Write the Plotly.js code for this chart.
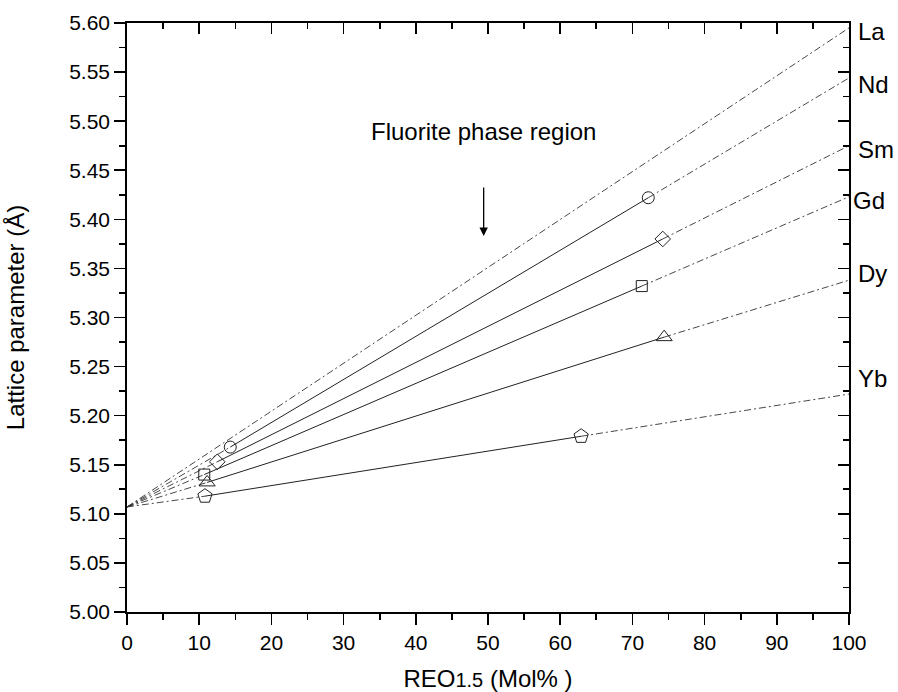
<!DOCTYPE html>
<html>
<head>
<meta charset="utf-8">
<script src="https://cdn.plot.ly/plotly-3.0.1.min.js"></script>
<style>html,body{margin:0;padding:0;background:#fff;}#chart{width:898px;height:692px;}</style>
</head>
<body>
<div id="chart"></div>
<script>
// Data
const elements   = ['La', 'Nd', 'Sm', 'Gd', 'Dy', 'Yb'];
const intercept  = 5.107;                 // common value at 0 mol%
const endX       = 100;
const endY       = [5.595, 5.544, 5.475, 5.423, 5.338, 5.222];
const lowX  = [null, 14.3, 12.5, 10.7, 11.1, 10.8];
const lowY  = [null, 5.168, 5.153, 5.140, 5.132, 5.118];
const highX = [null, 72.2, 74.2, 71.3, 74.4, 62.9];
const highY = [null, 5.422, 5.380, 5.332, 5.280, 5.179];
const labelY = [5.591, 5.537, 5.471, 5.419, 5.345, 5.238];
const xTicks = [0, 10, 20, 30, 40, 50, 60, 70, 80, 90, 100];
const yTicks = [5.00, 5.05, 5.10, 5.15, 5.20, 5.25, 5.30, 5.35, 5.40, 5.45, 5.50, 5.55, 5.60];

// styles (kept apart from data)
const markerStyle = {
  Nd: {symbol: 'circle-open', size: 12},
  Sm: {symbol: 'diamond-open', size: 12},
  Gd: {symbol: 'square-open', size: 11},
  Dy: {symbol: 'triangle-up-open', size: 14},
  Yb: {symbol: 'pentagon-open', size: 15}
};

const dashStyle = '7px,3px,2px,3px';
const traces = [];
elements.forEach((el, i) => {
  const ms = markerStyle[el];
  if (!ms) {
    traces.push({x: [0, endX], y: [intercept, endY[i]], mode: 'lines',
      line: {color: '#333', width: 0.9, dash: dashStyle}, showlegend: false, hoverinfo: 'skip'});
  } else {
    traces.push({x: [0, lowX[i], null, highX[i], endX], y: [intercept, lowY[i], null, highY[i], endY[i]],
      mode: 'lines', connectgaps: false,
      line: {color: '#333', width: 0.9, dash: dashStyle}, showlegend: false, hoverinfo: 'skip'});
    traces.push({x: [lowX[i], highX[i]], y: [lowY[i], highY[i]], mode: 'lines+markers',
      line: {color: '#222', width: 1},
      marker: {symbol: ms.symbol, size: ms.size, color: '#222', line: {width: 1, color: '#222'}},
      showlegend: false, name: el});
  }
});

const fontFam = 'Arial, "Liberation Sans", sans-serif';
const annotations = elements.map((el, i) => ({
  x: 1, xref: 'paper', y: labelY[i], yref: 'y', text: el, showarrow: false,
  xanchor: 'left', yanchor: 'middle', xshift: (el === 'Gd' ? 2 : 7),
  font: {family: fontFam, size: 24, color: '#000'}
}));
annotations.push({x: 49.4, y: 5.489, xref: 'x', yref: 'y', text: 'Fluorite phase region',
  showarrow: false, font: {family: fontFam, size: 24, color: '#000'}});
annotations.push({x: 49.4, y: 5.383, ax: 49.4, ay: 5.434, xref: 'x', yref: 'y', axref: 'x', ayref: 'y',
  text: '', showarrow: true, arrowhead: 2, arrowsize: 1.3, arrowwidth: 1.3, arrowcolor: '#000'});

const axBase = {showgrid: false, zeroline: false, showline: true, linecolor: '#000', linewidth: 1.8};
const layout = {
  width: 898, height: 692,
  margin: {l: 127, r: 49, t: 23, b: 80},
  paper_bgcolor: '#fff', plot_bgcolor: '#fff',
  font: {family: fontFam, color: '#000'},
  showlegend: false,
  xaxis: Object.assign({}, axBase, {
    range: [0, 100], tickvals: xTicks, ticktext: xTicks.map(String),
    ticks: 'outside', ticklen: 11, tickwidth: 1.6, tickcolor: '#000',
    minor: {dtick: 5, tick0: 0, ticks: 'outside', ticklen: 6, tickwidth: 1.6, tickcolor: '#000'},
    tickfont: {size: 21, family: fontFam},
    title: {text: 'REO<span style="font-size:20px">1.5</span> (Mol% )', font: {size: 24, family: fontFam}, standoff: 18}
  }),
  yaxis: Object.assign({}, axBase, {
    range: [5.0, 5.6], tickvals: yTicks, ticktext: yTicks.map(v => v.toFixed(2)),
    ticks: 'outside', ticklen: 11, tickwidth: 1.6, tickcolor: '#000',
    minor: {dtick: 0.025, tick0: 5.0, ticks: 'outside', ticklen: 6, tickwidth: 1.6, tickcolor: '#000'},
    tickfont: {size: 21, family: fontFam},
    title: {text: 'Lattice parameter (Å)', font: {size: 24, family: fontFam}, standoff: 38}
  }),
  xaxis2: Object.assign({}, axBase, {
    overlaying: 'x', side: 'top', range: [0, 100], tickvals: xTicks, showticklabels: false,
    ticks: 'inside', ticklen: 11, tickwidth: 1.6, tickcolor: '#000',
    minor: {dtick: 5, tick0: 0, ticks: 'inside', ticklen: 6, tickwidth: 1.6, tickcolor: '#000'}
  }),
  yaxis2: Object.assign({}, axBase, {
    overlaying: 'y', side: 'right', range: [5.0, 5.6], tickvals: yTicks, showticklabels: false,
    ticks: 'inside', ticklen: 11, tickwidth: 1.6, tickcolor: '#000',
    minor: {dtick: 0.025, tick0: 5.0, ticks: 'inside', ticklen: 6, tickwidth: 1.6, tickcolor: '#000'}
  }),
  annotations: annotations
};
// invisible trace to activate overlay axes
traces.push({x: [0], y: [5.0], xaxis: 'x2', yaxis: 'y2', mode: 'markers', marker: {opacity: 0}, hoverinfo: 'skip', showlegend: false});

Plotly.newPlot('chart', traces, layout, {displayModeBar: false, staticPlot: true});
</script>
</body>
</html>
